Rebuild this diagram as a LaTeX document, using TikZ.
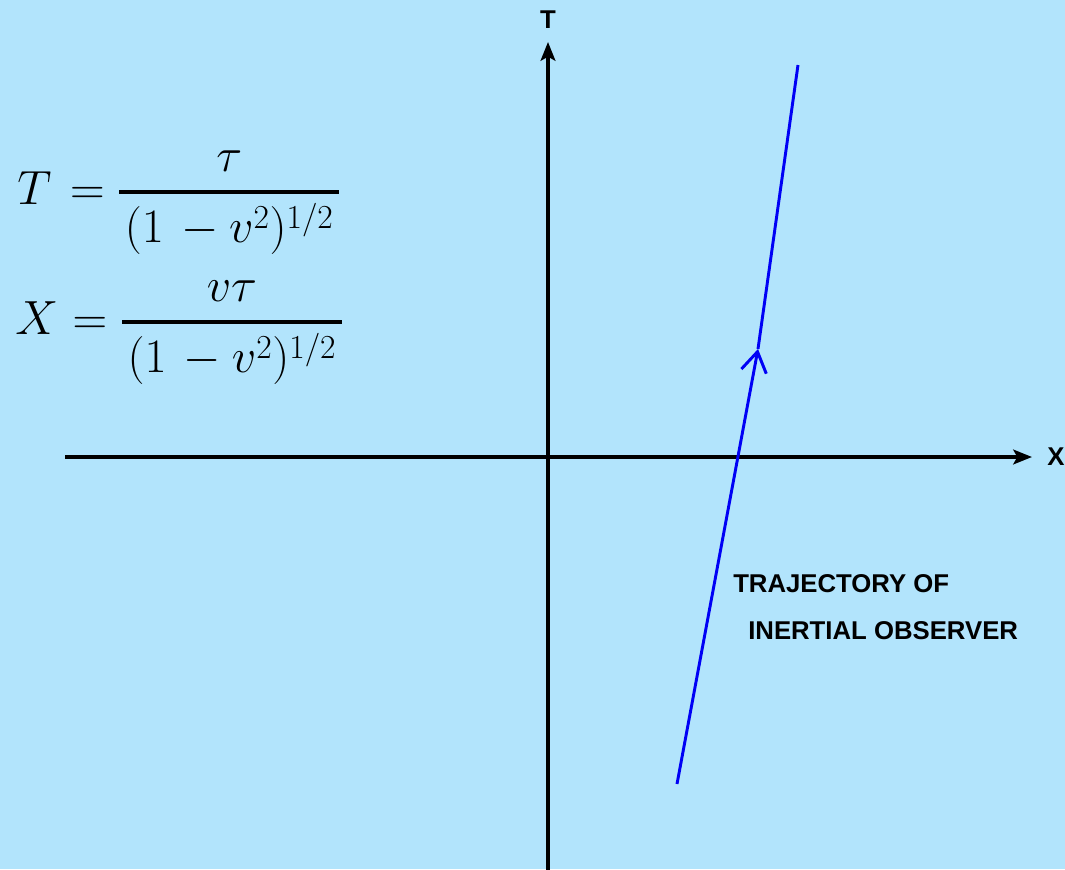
\RequirePackage{fix-cm}
\documentclass[tikz,border=0pt]{standalone}
\usepackage{fontspec}
\newfontfamily\labfont{Liberation Sans}
\usetikzlibrary{arrows.meta}
\definecolor{bgblue}{RGB}{178,228,252}
\definecolor{trajblue}{RGB}{0,0,245}
\newcommand{\denomexpr}{\mkern2mu(1\mkern2.5mu-v^2)^{1/2}\mkern2mu}
\begin{document}
\begin{tikzpicture}[x=0.75pt,y=-0.75pt,
  axis/.style={line width=3pt,-{Stealth[length=14pt,width=11pt,inset=3pt]}},
  lbl/.style={font=\labfont\bfseries\fontsize{19.3}{23}\selectfont,inner sep=0pt},
  eqn/.style={font=\fontsize{36}{42}\selectfont,inner sep=0pt,anchor=base west},
  traj/.style={trajblue,line width=2.2pt}]
\fill[bgblue] (0,0) rectangle (1065,869);
\useasboundingbox (0,0) rectangle (1065,869);
% axes
\coordinate (xl) at (65,457);
\coordinate (xr) at (1032,457);
\coordinate (tb) at (548,875);
\coordinate (tt) at (548,42);
\draw[axis] (xl) -- (xr);
\draw[axis] (tb) -- (tt);
\node[lbl] (Tlab) at (548,20) {T};
\node[lbl] (Xlab) at (1056,457) {X};
% trajectory
\coordinate (ts) at (677,784);
\coordinate (tm) at (758,349);
\coordinate (te) at (798,65);
\draw[traj,-{Straight Barb[length=15pt,width=19pt,line width=2.2pt]}] (ts) -- (tm);
\draw[traj,line cap=butt] (tm) -- (te);
\node[lbl,anchor=west] (traj1) at (733,584) {TRAJECTORY OF};
\node[lbl,anchor=west] (traj2) at (748,631) {INERTIAL OBSERVER};
% equations
\node[eqn] (eq1) at (17,204) {$\displaystyle T\mkern2mu={\tau\above2.4pt\denomexpr}$};
\node[eqn] (eq2) at (15,334) {$\displaystyle X\mkern0.5mu={v\tau\above2.4pt\denomexpr}$};
\end{tikzpicture}
\end{document}
